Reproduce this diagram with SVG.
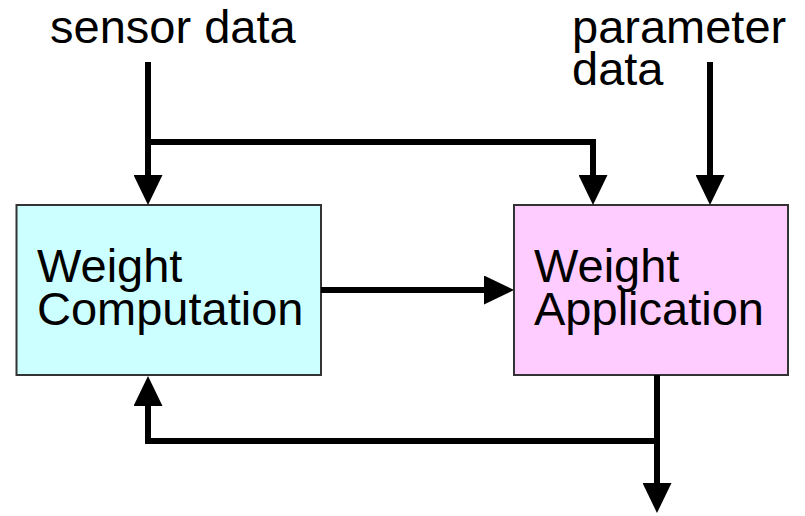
<svg xmlns="http://www.w3.org/2000/svg" width="805" height="516" viewBox="0 0 805 516">
  <defs>
    <marker id="arrow" markerUnits="userSpaceOnUse" markerWidth="30" markerHeight="29" refX="22" refY="14.5" orient="auto">
      <path d="M0,0 L30,14.5 L0,29 Z" fill="#000"/>
    </marker>
    <style>
      .label { font-family: "Liberation Sans", Arial, sans-serif; font-size: 47px; fill: #000; }
      .box { stroke: #333; stroke-width: 2; }
      .wire { fill: none; stroke: #000; stroke-width: 6; stroke-linejoin: miter; }
    </style>
  </defs>
  <rect width="805" height="516" fill="#fff"/>

  <g id="inputs">
    <text class="label" x="50" y="43">sensor data</text>
    <text class="label" x="572" y="43">parameter</text>
    <text class="label" x="572" y="85">data</text>
  </g>

  <g id="weight-computation">
    <rect class="box" x="16.5" y="205" width="304.5" height="170" fill="#ccffff"/>
    <text class="label" x="37" y="282">Weight</text>
    <text class="label" x="37" y="325">Computation</text>
  </g>

  <g id="weight-application">
    <rect class="box" x="514" y="205" width="274" height="170" fill="#ffccff"/>
    <text class="label" x="534" y="282">Weight</text>
    <text class="label" x="534" y="325">Application</text>
  </g>

  <g id="connectors">
    <path class="wire" d="M148,62 V197" marker-end="url(#arrow)"/>
    <path class="wire" d="M148,142 H593 V197" marker-end="url(#arrow)"/>
    <path class="wire" d="M710,62 V197" marker-end="url(#arrow)"/>
    <path class="wire" d="M321,290 H506" marker-end="url(#arrow)"/>
    <path class="wire" d="M657,375 V505" marker-end="url(#arrow)"/>
    <path class="wire" d="M657,441 H148 V384" marker-end="url(#arrow)"/>
  </g>
</svg>
